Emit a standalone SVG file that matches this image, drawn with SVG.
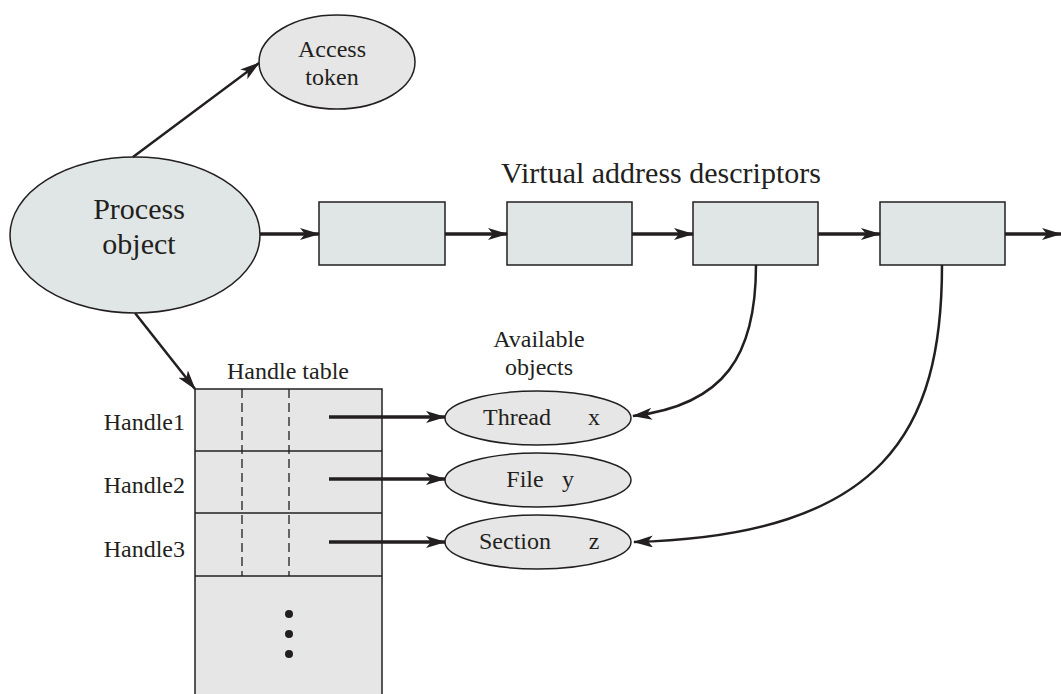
<svg xmlns="http://www.w3.org/2000/svg" width="1061" height="694" viewBox="0 0 1061 694">
<style>
.t{font-family:"Liberation Serif","Times New Roman",serif;fill:#231f20;font-size:24px}
.big{font-size:30px}
.obj{fill:#e6e6e6;stroke:#231f20;stroke-width:1.5}
.blue{fill:#e0e6e6;stroke:#231f20;stroke-width:1.5}
.c{fill:none;stroke:#231f20;stroke-width:2.5}
.thick{fill:none;stroke:#231f20;stroke-width:3.5}
</style>
<defs>
<marker id="ah" markerWidth="20" markerHeight="12" viewBox="0 0 20 12" refX="19" refY="6" orient="auto" markerUnits="userSpaceOnUse">
<path d="M0,0 L20,6 L0,12 L5,6 Z" fill="#231f20"/>
</marker>
</defs>
<rect width="1061" height="694" fill="#fff"/>
<g id="process-object">
<ellipse class="blue" cx="135" cy="235" rx="125" ry="78"/>
<text class="t big" x="139" y="219" text-anchor="middle">Process</text>
<text class="t big" x="139" y="254" text-anchor="middle">object</text>
</g>
<g id="access-token">
<ellipse class="obj" cx="337" cy="62" rx="78" ry="47"/>
<text class="t" x="332" y="57" text-anchor="middle">Access</text>
<text class="t" x="332" y="85" text-anchor="middle">token</text>
</g>
<text class="t big" x="661" y="183" text-anchor="middle">Virtual address descriptors</text>
<g id="vad1"><rect class="blue" x="319" y="202" width="126" height="63"/></g>
<g id="vad2"><rect class="blue" x="507" y="202" width="125" height="63"/></g>
<g id="vad3"><rect class="blue" x="693" y="202" width="125" height="63"/></g>
<g id="vad4"><rect class="blue" x="880" y="202" width="125" height="63"/></g>
<g id="handle-table">
<rect class="obj" x="195" y="389" width="187" height="320"/>
<line x1="195" y1="451" x2="382" y2="451" stroke="#231f20" stroke-width="1.5"/>
<line x1="195" y1="513" x2="382" y2="513" stroke="#231f20" stroke-width="1.5"/>
<line x1="195" y1="576" x2="382" y2="576" stroke="#231f20" stroke-width="1.5"/>
<line x1="242" y1="389" x2="242" y2="576" stroke="#231f20" stroke-width="1.3" stroke-dasharray="9,5"/>
<line x1="289" y1="389" x2="289" y2="576" stroke="#231f20" stroke-width="1.3" stroke-dasharray="9,5"/>
<circle cx="289" cy="614" r="4" fill="#231f20"/>
<circle cx="289" cy="634" r="4" fill="#231f20"/>
<circle cx="289" cy="654" r="4" fill="#231f20"/>
<text class="t" x="288" y="379" text-anchor="middle">Handle table</text>
<text class="t" x="185" y="430" text-anchor="end">Handle1</text>
<text class="t" x="185" y="493" text-anchor="end">Handle2</text>
<text class="t" x="185" y="557" text-anchor="end">Handle3</text>
</g>
<text class="t" x="539" y="347" text-anchor="middle">Available</text>
<text class="t" x="539" y="375" text-anchor="middle">objects</text>
<g id="thread">
<ellipse class="obj" cx="538" cy="418" rx="93" ry="27"/>
<text class="t" x="517" y="425" text-anchor="middle">Thread</text>
<text class="t" x="594" y="425" text-anchor="middle">x</text>
</g>
<g id="file">
<ellipse class="obj" cx="538" cy="480" rx="93" ry="27"/>
<text class="t" x="525" y="487" text-anchor="middle">File</text>
<text class="t" x="568" y="487" text-anchor="middle">y</text>
</g>
<g id="section">
<ellipse class="obj" cx="538" cy="542" rx="93" ry="27"/>
<text class="t" x="515" y="549" text-anchor="middle">Section</text>
<text class="t" x="594" y="549" text-anchor="middle">z</text>
</g>
<g id="connectors">
<line class="c" x1="133" y1="157" x2="259" y2="63" marker-end="url(#ah)"/>
<line class="c" x1="135" y1="313" x2="195" y2="389" marker-end="url(#ah)"/>
<line class="thick" x1="260" y1="234" x2="319" y2="234" marker-end="url(#ah)"/>
<line class="thick" x1="445" y1="234" x2="507" y2="234" marker-end="url(#ah)"/>
<line class="thick" x1="632" y1="234" x2="693" y2="234" marker-end="url(#ah)"/>
<line class="thick" x1="818" y1="234" x2="880" y2="234" marker-end="url(#ah)"/>
<line class="thick" x1="1005" y1="234" x2="1061" y2="234" marker-end="url(#ah)"/>
<line class="thick" x1="329" y1="417" x2="445" y2="417" marker-end="url(#ah)"/>
<line class="thick" x1="329" y1="479" x2="445" y2="479" marker-end="url(#ah)"/>
<line class="thick" x1="329" y1="542" x2="445" y2="542" marker-end="url(#ah)"/>
<path class="c" d="M756,265 C756,355 725,405 633,416" marker-end="url(#ah)"/>
<path class="c" d="M942,265 C942,430 885,535 634,542" marker-end="url(#ah)"/>
</g>
</svg>
